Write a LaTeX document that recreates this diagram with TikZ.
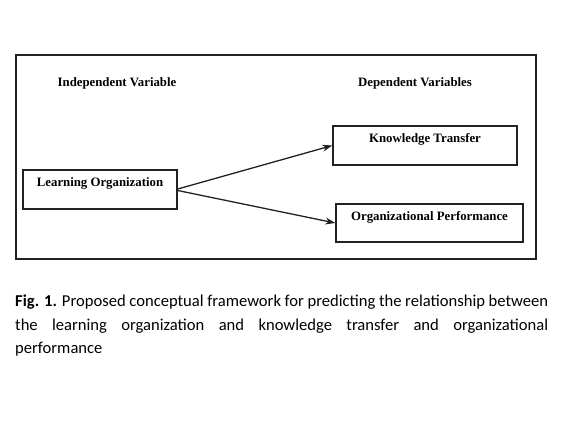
\documentclass[tikz,border=0pt]{standalone}
\usepackage{fontspec}
\setmainfont{Liberation Serif}
\newfontfamily\capfont{Carlito}
\usetikzlibrary{arrows.meta}
\definecolor{ink}{HTML}{222222}
\tikzset{
  frame/.style={draw=ink, line width=1.4pt},
  box/.style={draw=ink, line width=1.4pt, inner xsep=0pt, inner ysep=0pt,
    text height=16.5pt, font=\bfseries\fontsize{12.8}{14}\selectfont},
  heading/.style={font=\bfseries\fontsize{12.8}{14}\selectfont, inner sep=0pt},
  arr/.style={draw=ink, line width=1.3pt, -{Stealth[length=10pt,width=7pt]}},
}
\begin{document}
\begin{tikzpicture}[x=1pt,y=1pt]
\useasboundingbox (0,0) rectangle (561,-447);
\node[frame, minimum width=520pt, minimum height=204pt, inner sep=0pt] (fr) at (276,-157) {};
\node[heading] (iv) at (117,-83) {Independent Variable};
\node[heading] (dv) at (415,-83) {Dependent Variables};
\node[box, minimum width=154pt, text depth=22.5pt] (lo) at (100,-189.5) {Learning Organization};
\node[box, minimum width=184pt, text depth=22.5pt] (kt) at (425,-145.5) {Knowledge Transfer};
\node[box, minimum width=187pt, text depth=21.5pt] (op) at (429.5,-223) {Organizational Performance};
\draw[arr] ([yshift=0.5pt]lo.east) -- (kt.west);
\draw[arr] ([yshift=-1pt]lo.east) -- (op.west);
\node[anchor=north west, text width=533pt, inner sep=0pt, align=justify,
  font=\capfont\fontsize{16.6}{23.3}\selectfont] (cap) at (15,-295)
  {\textbf{Fig. 1.} Proposed conceptual framework for predicting the relationship between\linebreak
   the learning organization and knowledge transfer and organizational\linebreak
   performance};
\end{tikzpicture}
\end{document}
